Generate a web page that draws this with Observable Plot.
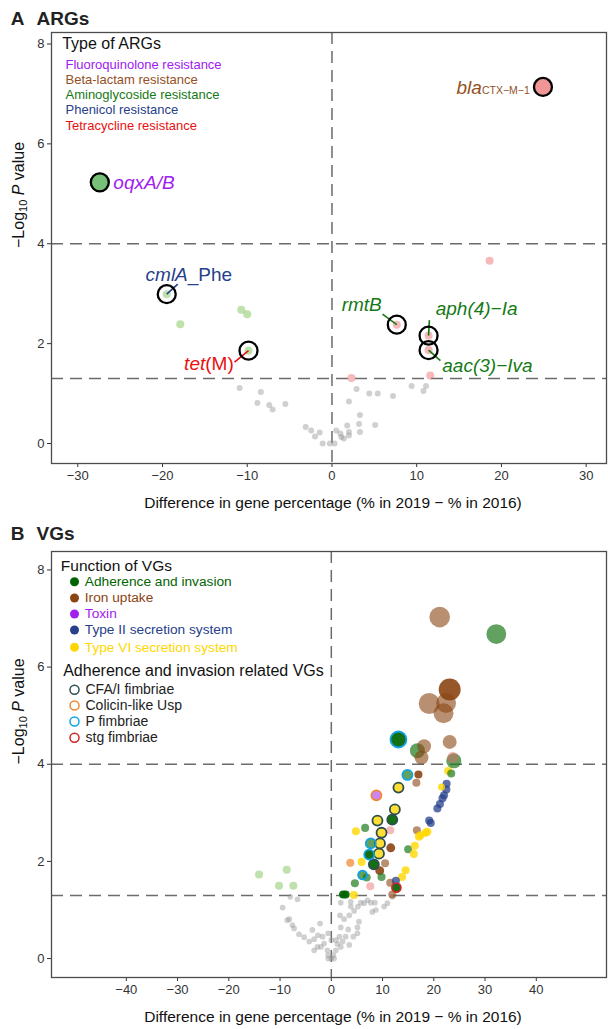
<!DOCTYPE html>
<html><head><meta charset="utf-8">
<script src="https://cdn.jsdelivr.net/npm/d3@7"></script>
<script src="https://cdn.jsdelivr.net/npm/@observablehq/plot@0.6"></script>
<style>
body{margin:0;background:#fff;}
#chart{width:608px;}
#chart svg{display:block;}
</style></head><body><div id="chart"></div>
<script>
// ================= DATA: Panel A (ARGs) =================
const argTypes = ["Fluoroquinolone resistance","Beta-lactam resistance","Aminoglycoside resistance","Phenicol resistance","Tetracycline resistance"];
const argX = [-10.9,-8.4,-8.8,-7.4,-7.0,-5.5,-3.1,-2.45,-1.45,-2.0,-1.1,-0.25,0.3,0.5,1.0,1.1,1.4,2.0,2.0,1.8,2.0,2.9,3.2,3.3,3.3,4.4,5.4,5.1,7.2,9.4,10.8,11.1,
  -17.9,-10.7,-10.0,-19.5,-9.85, 18.6,2.3,11.6,7.65,11.4,11.4, -27.4, 24.9];
const argY = [1.11,1.03,0.81,0.77,0.68,0.79,0.33,0.26,0.22,0.14,0,0,0,0.26,0.2,0.13,0.1,0.23,0.16,0.36,0.84,1.09,0.39,0.57,0.23,1.0,1.0,0.37,0.95,1.15,1.05,1.15,
  2.39,2.68,2.59,2.99,1.86, 3.66,1.31,1.36,2.38,2.16,1.87, 5.23, 7.14];
const argGroup = [...Array(32).fill("ns"), "neg","neg","neg","neg","neg", "pos","pos","pos","pos","pos","pos", "negBig","posBig"];
const argSize = [...Array(32).fill(1), 1.8,1.8,1.8,1.8,1.8, 1.8,1.8,1.8,1.8,1.8,1.8, 11, 10];
const argGene = [...Array(32).fill(""), "","","","cmlA_Phe","tet(M)", "","","","rmtB","aph(4)-Ia","aac(3)-Iva", "oqxA/B","blaCTX-M-1"];
// labels
const argLabelGene   = ["oqxA/B","blaCTX-M-1","cmlA_Phe","tet(M)","rmtB","aph(4)-Ia","aac(3)-Iva"];
const argLabelItalic = ["oqxA/B","bla","cmlA","tet","rmtB","aph(4)−Ia","aac(3)−Iva"];
const argLabelRest   = ["","CTX−M−1","_Phe","(M)","","",""];
const argLabelSub    = [false,true,false,false,false,false,false];
const argLabelType   = ["Fluoroquinolone resistance","Beta-lactam resistance","Phenicol resistance","Tetracycline resistance","Aminoglycoside resistance","Aminoglycoside resistance","Aminoglycoside resistance"];
const argLabelX = [-25.8, 14.7, -22.0, -17.45, 1.14, 12.24, 13.02];
const argLabelY = [5.22, 7.12, 3.38, 1.59, 2.78, 2.69, 1.56];
const argLeadX  = [null, null, -18.2, -11.5, 5.96, 11.5, 12.8];
const argLeadY  = [null, null, 3.19, 1.63, 2.59, 2.47, 1.66];

// ================= DATA: Panel B (VGs) =================
const vgFunctions = ["Adherence and invasion","Iron uptake","Toxin","Type II secretion system","Type VI secretion system"];
const vgAdhTypes = ["CFA/I fimbriae","Colicin-like Usp","P fimbriae","stg fimbriae"];
const vgNsX = [-8.0,-6.6,-9.5,-8.2,-7.6,-7.25,-6.3,-5.3,-4.3,-3.35,-3.7,-2.2,-2.6,-1.7,-2.7,-1.4,-0.75,-0.6,0.4,0.9,1.2,1.6,1.85,1.7,2.5,3.5,4.45,5.2,6.4,7.05,8.0,8.7,10.3,10.95,11.9,5.4,5.1,3.3,2.8,2.2,3.8,3.8,1.85,5.75,7.7,8.5,0,0.55,-0.6,-3.35,-2.0,0.9,1.85,3.5,4.3,5.1,-0.6,0,-8.6];
const vgNsY = [1.27,1.22,1.05,0.81,0.69,0.62,0.50,0.44,0.35,0.40,0.59,0.72,0.48,0.45,0.24,0.31,0.17,0.07,0.07,0.17,0.30,0.45,0.64,0.89,0.81,0.89,0.98,1.07,1.14,1.20,0.96,1.0,1.07,1.14,1.27,0.76,0.64,0.60,0.45,0.35,1.07,1.17,1.15,1.15,1.15,1.15,0,0,0,0.17,0.24,0.38,0.24,0.28,0.45,0.52,0.52,0.38,0.79];
const vgX = [21.15,32.2,23.1,19.1,22.4,21.9,13.1,18.1,16.8,17.6,23.1,23.7,23.9,22.8,23.4,14.85,17.0,16.6,13.1,8.8,21.5,
  22.5,22.45,22.0,21.7,21.2,20.7,19.1,19.4,12.4,11.9,9.0,6.6,4.8,11.5,9.8,16.7,17.4,18.4,18.75,17.1,9.5,7.7,11.6,15.0,16.3,16.1,
  9.3,7.4,3.7,5.9,8.3,10.5,9.45,6.1,6.9,9.8,14.5,13.8,4.6,7.6,11.5,12.7,2.3,2.8,4.4,11.9,12.6,
  -14.1,-8.7,-10.2,-7.4];
const vgY = [7.03,6.68,5.54,5.25,5.26,5.05,4.51,4.37,4.28,4.14,4.46,4.14,4.07,3.86,3.81,3.78,3.79,3.62,3.52,3.36,3.53,
  3.6,3.48,3.36,3.3,3.18,3.09,2.84,2.79,3.07,2.86,2.84,2.69,2.62,2.64,2.59,2.64,2.54,2.59,2.61,2.51,2.37,2.37,2.28,2.25,2.32,2.15,
  2.16,2.14,1.97,1.99,1.94,1.96,1.81,1.72,1.67,1.68,1.82,1.68,1.55,1.49,1.56,1.46,1.32,1.32,1.31,1.32,1.6,
  1.73,1.83,1.50,1.50];
const vgGroup = ["ironL","adhL","iron","ironL","ironL","ironL","adh","ironL","adhL","ironL","ironL","pos","adhL","t6","adhL","adhL","iron","ironL","t6","toxin","t6",
  "t2","t2","t2","t2","t2","t2","t2","t2","t6","adh","t6","adhL","t6","pos","t6","ironL","t6","t6","t6","t6","t6","adhL","iron","adhL","t6","t6",
  "t6","adh","orange","t6","adh","ironL","iron","adhL","adhL","adhL","t6","t6","adhL","pos","ironL","adh","adh","adh","t6","ironL","t2",
  "neg","neg","neg","neg"];
const vgSize = [11.8,11,13.4,12.25,11,11,7.1,5.4,6.25,5.4,5.4,3.5,6.25,1.8,1.8,2.8,1.8,1.8,2.8,2.8,1.4,
  1.8,1.8,1.8,1.8,1.8,1.8,1.8,1.8,2.8,2.8,2.8,1.8,1.8,1.8,2.8,1.8,1.8,1.8,1.8,1.8,2.8,2.8,2.2,1.8,1.8,1.8,
  2.8,2.8,1.8,1.8,2.8,1.8,2.2,2.2,1.8,1.8,1.8,1.8,1.8,1.8,1.8,2.2,1.8,1.8,1.8,1.8,1.8,
  1.8,1.8,1.8,1.8];
const vgRing = ["","","","","","","P fimbriae","","","","","","","","","P fimbriae","","","CFA/I fimbriae","Colicin-like Usp","",
  "","","","","","","","","CFA/I fimbriae","CFA/I fimbriae","CFA/I fimbriae","","","","CFA/I fimbriae","","","","","","CFA/I fimbriae","P fimbriae","","","","",
  "CFA/I fimbriae","P fimbriae","","","CFA/I fimbriae","","","P fimbriae","","","","","","","","stg fimbriae","","","","","",
  "","","",""];

// ================= STYLES =================
const ff = "Liberation Sans, Arial, Helvetica, sans-serif";
const dashStyle = {stroke:"#6b6b6b", strokeDasharray:"12,7", strokeWidth:1.5};
const rScale = {type:"sqrt", domain:[0,1], range:[0,3]};
const groupColors = {
  ns:"rgba(150,150,150,0.45)", neg:"rgba(127,198,89,0.5)", pos:"rgba(238,102,102,0.45)",
  negBig:"rgba(46,158,46,0.65)", posBig:"rgba(232,80,80,0.6)",
  adh:"rgba(0,100,0,0.92)", adhL:"rgba(30,123,30,0.7)", iron:"rgba(139,69,19,0.9)", ironL:"rgba(139,69,19,0.6)",
  toxin:"rgba(160,32,240,0.55)", t2:"rgba(39,64,139,0.75)", t6:"rgba(255,215,0,0.8)", orange:"rgba(244,164,96,0.95)"
};
const colorScale = {type:"ordinal", domain:Object.keys(groupColors), range:Object.values(groupColors)};
const argTypeColor = {"Fluoroquinolone resistance":"#A020F0","Beta-lactam resistance":"#94501f","Aminoglycoside resistance":"#157a15","Phenicol resistance":"#27408B","Tetracycline resistance":"#e81010"};
const vgFunColor = ["#006400","#8B4513","#A020F0","#27408B","#FFD700"];
const ringColor = {"CFA/I fimbriae":"#2F4F4F","Colicin-like Usp":"#EE8833","P fimbriae":"#0FA3E6","stg fimbriae":"#CD2626"};
const fmt = d => d < 0 ? "−" + Math.abs(d) : String(d);
const xTitle = "Difference in gene percentage (% in 2019 − % in 2016)";

function richify(svg, name, partsList) {
  const nodes = svg.querySelectorAll(`text[aria-label="${name}"]`);
  nodes.forEach((t, i) => {
    const parts = partsList[i]; if (!parts) return;
    t.textContent = "";
    for (const p of parts) {
      const s = document.createElementNS("http://www.w3.org/2000/svg", "tspan");
      s.textContent = p.t;
      if (p.italic) s.setAttribute("font-style", "italic");
      if (p.size) s.setAttribute("font-size", p.size);
      if (p.dy) s.setAttribute("dy", p.dy);
      t.appendChild(s);
    }
  });
}
const yTitleParts = [[{t:"−Log"},{t:"10",size:11,dy:3},{t:" ",dy:-3},{t:"P",italic:true},{t:" value"}]];
const tl = {frameAnchor:"top-left", lineAnchor:"middle", textAnchor:"start"};

function commonMarks(title, letter, letterDy) {
  return [
    Plot.text([letter], {...tl, text:d=>d, dx:-34, dy:letterDy, fontSize:19, fontWeight:"bold", fill:"#222", textAnchor:"middle"}),
    Plot.text([title], {...tl, text:d=>d, dx:-15, dy:letterDy, fontSize:19, fontWeight:"bold", fill:"#222"}),
    Plot.text(["−Log10 P value"], {text:d=>d, frameAnchor:"left", lineAnchor:"middle", dx:-33, rotate:-90, fontSize:16, fill:"#111", ariaLabel:()=>"ytitle"}),
    Plot.text([xTitle], {text:d=>d, frameAnchor:"bottom", lineAnchor:"middle", dx:4, dy:40, fontSize:15.5, fill:"#111"})
  ];
}

// ================= PANEL A =================
const argData = argX.map((x,i)=>({x, y:argY[i], g:argGroup[i], s:argSize[i], gene:argGene[i]}));
const argRinged = argData.filter(d=>d.gene);
const argLabels = argLabelGene.map((gene,i)=>({gene, x:argLabelX[i], y:argLabelY[i], it:argLabelItalic[i], rest:argLabelRest[i], sub:argLabelSub[i], type:argLabelType[i]}));
const argLeaders = argLabels.map((d,i)=>{ const p = argData.find(q=>q.gene===d.gene); return argLeadX[i]==null ? null : {x1:p.x, y1:p.y, x2:argLeadX[i], y2:argLeadY[i], type:d.type}; }).filter(Boolean);
const argLegendDy = [32, 47, 62, 77, 93.5];

const svgA = Plot.plot({
  width:608, height:515, marginLeft:51, marginRight:2, marginTop:32, marginBottom:52,
  style:{fontFamily:ff, fontSize:"13px", color:"#333", background:"white"},
  x:{domain:[-33.1,32.4], ticks:[-30,-20,-10,0,10,20,30], tickSize:4, tickPadding:3, label:null, tickFormat:fmt},
  y:{domain:[-0.4,8.23], ticks:[0,2,4,6,8], tickSize:4, tickPadding:3, label:null, tickFormat:fmt},
  r:rScale, color:colorScale,
  marks:[
    Plot.ruleX([0], dashStyle),
    Plot.ruleY([4, 1.3], dashStyle),
    Plot.frame({stroke:"#4d4d4d", strokeWidth:1.3}),
    Plot.dot(argData, {x:"x", y:"y", r:"s", fill:"g"}),
    ...argLeaders.map(d=>Plot.link([d], {x1:"x1", y1:"y1", x2:"x2", y2:"y2", stroke:argTypeColor[d.type], strokeWidth:1.6})),
    Plot.dot(argRinged, {x:"x", y:"y", r:9, stroke:"black", strokeWidth:2.3, fill:"none"}),
    ...argLabels.map(d=>Plot.text([d], {x:"x", y:"y", text:d=>d.it+d.rest, textAnchor:"start", lineAnchor:"middle", fontSize:19, fill:argTypeColor[d.type], ariaLabel:()=>"arglab"})),
    Plot.text(["Type of ARGs"], {...tl, text:d=>d, dx:10.7, dy:11.3, fontSize:16, fill:"#111"}),
    ...argTypes.map((t,i)=>Plot.text([t], {...tl, text:d=>d, dx:14, dy:argLegendDy[i], fontSize:13, fill:argTypeColor[t]})),
    ...commonMarks("ARGs", "A", -14)
  ]
});
richify(svgA, "arglab", argLabels.map(d=>[{t:d.it, italic:true}, ...(d.rest ? [{t:d.rest, size: d.sub ? 10.5 : null}] : [])]));
richify(svgA, "ytitle", yTitleParts);

// ================= PANEL B =================
const bDom = {x:[-54.6,53.7], y:[-0.39,8.38]};
const bW = 555, bH = 426;
const bx = dx => bDom.x[0] + dx * (bDom.x[1]-bDom.x[0]) / bW;
const by = dy => bDom.y[1] - dy * (bDom.y[1]-bDom.y[0]) / bH;
const vgNs = vgNsX.map((x,i)=>({x, y:vgNsY[i], g:"ns", s:0.9, ring:""}));
const vgData = vgX.map((x,i)=>({x, y:vgY[i], g:vgGroup[i], s:vgSize[i], ring:vgRing[i]})).sort((a,b)=>b.s-a.s);
const funDy = [30.2, 46.5, 62.5, 78.5, 95.7];
const ringDy = [138.3, 154, 170, 186.3];

const svgB = Plot.plot({
  width:608, height:514, marginLeft:51, marginRight:2, marginTop:36, marginBottom:52,
  style:{fontFamily:ff, fontSize:"13px", color:"#333", background:"white"},
  x:{domain:bDom.x, ticks:[-40,-30,-20,-10,0,10,20,30,40], tickSize:4, tickPadding:3, label:null, tickFormat:fmt},
  y:{domain:bDom.y, ticks:[0,2,4,6,8], tickSize:4, tickPadding:3, label:null, tickFormat:fmt},
  r:rScale, color:colorScale,
  marks:[
    Plot.ruleX([0], dashStyle),
    Plot.ruleY([4, 1.3], dashStyle),
    Plot.frame({stroke:"#4d4d4d", strokeWidth:1.3}),
    Plot.dot(vgNs, {x:"x", y:"y", r:"s", fill:"g"}),
    Plot.dot(vgData, {x:"x", y:"y", r:"s", fill:"g"}),
    ...vgAdhTypes.map(t=>Plot.dot(vgData.filter(d=>d.ring===t), {x:"x", y:"y", r:"s", stroke:ringColor[t], strokeWidth:1.8, fill:"none"})),
    Plot.text(["Function of VGs"], {...tl, text:d=>d, dx:9.3, dy:14.8, fontSize:15.5, fill:"#111"}),
    ...vgFunctions.map((t,i)=>Plot.dot([t], {x:()=>bx(23), y:()=>by(funDy[i]), r:4.5, fill:vgFunColor[i]})),
    ...vgFunctions.map((t,i)=>Plot.text([t], {...tl, text:d=>d, dx:33.3, dy:funDy[i], fontSize:13.7, fill:vgFunColor[i]})),
    Plot.text(["Adherence and invasion related VGs"], {...tl, text:d=>d, dx:11.7, dy:119.7, fontSize:16, fill:"#111"}),
    ...vgAdhTypes.map((t,i)=>Plot.dot([t], {x:()=>bx(23), y:()=>by(ringDy[i]), r:4.5, stroke:ringColor[t], strokeWidth:1.5, fill:"none"})),
    ...vgAdhTypes.map((t,i)=>Plot.text([t], {...tl, text:d=>d, dx:34, dy:ringDy[i], fontSize:14, fill:"#222"})),
    ...commonMarks("VGs", "B", -18)
  ]
});
richify(svgB, "ytitle", yTitleParts);

document.getElementById("chart").append(svgA, svgB);
</script>
</body></html>
